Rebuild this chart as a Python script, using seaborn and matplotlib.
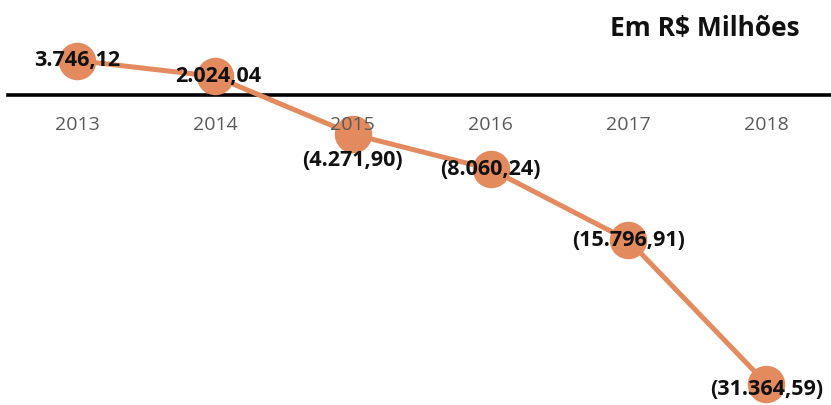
import matplotlib
matplotlib.use("Agg")
import matplotlib.pyplot as plt
import seaborn as sns
import pandas as pd

years = [2013, 2014, 2015, 2016, 2017, 2018]
values = [3746.12, 2024.04, -4271.90, -8060.24, -15796.91, -31364.59]
labels = ["3.746,12", "2.024,04", "(4.271,90)", "(8.060,24)", "(15.796,91)", "(31.364,59)"]
unit_title = "Em R$ Milhões"

sns.set_theme(style="white")
plt.rcParams["font.family"] = ["Open Sans", "DejaVu Sans"]

df = pd.DataFrame({"ano": years, "valor": values})

fig = plt.figure(figsize=(8.31, 4.05), dpi=100)
ax = fig.add_axes([0, 0, 1, 1])

color = "#E38B5E"
sns.lineplot(data=df, x="ano", y="valor", ax=ax, color=color, linewidth=3.6,
             marker="o", markersize=27, markeredgewidth=0, zorder=2)

ax.set_xlim(2012.44, 2018.47)
ax.set_ylim(-33700, 10330)

# baseline at zero with year labels beneath it
for side in ["top", "right", "left"]:
    ax.spines[side].set_visible(False)
ax.spines["bottom"].set_position(("data", 0))
ax.spines["bottom"].set_color("black")
ax.spines["bottom"].set_linewidth(2.6)
ax.spines["bottom"].set_bounds(2012.5, 2018.47)
ax.spines["bottom"].set_zorder(1)
ax.set_xticks(years)
ax.set_xticklabels([str(y) for y in years], color="#595959", fontsize=14)
ax.tick_params(axis="x", length=0, pad=15)
ax.set_yticks([])
ax.set_xlabel("")
ax.set_ylabel("")
ax.set_axisbelow(False)

# value labels
offsets = [0, 0, -2900, 0, 0, -700]
for x, v, lab, off in zip(years, values, labels, offsets):
    ax.text(x + (0.02 if x == 2014 else 0), v + off, lab, ha="center", va="center",
            fontsize=15.5, fontweight="bold", color="#111111", zorder=5)

fig.text(0.962, 0.93, unit_title, ha="right", va="center", fontsize=19,
         fontweight="bold", color="#111111")

fig.savefig("out.png", dpi=100)
